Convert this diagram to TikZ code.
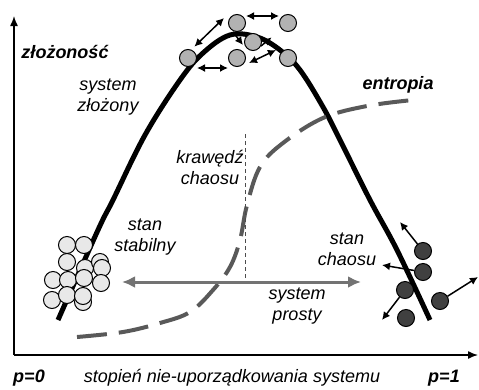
\documentclass[tikz,border=0pt]{standalone}
\usepackage{fontspec}
\setmainfont{Liberation Sans}
\usetikzlibrary{arrows.meta, calc}

\begin{document}
\begin{tikzpicture}[
    x=1pt, y=-1pt,
    lbl/.style={font=\fontsize{18}{21}\selectfont\itshape, align=center,
                inner sep=0pt},
    blbl/.style={lbl, font=\fontsize{18}{21}\selectfont\bfseries\itshape},
    axis/.style={line width=1.4pt, -{Latex[length=10pt,width=8pt]}},
    curve/.style={line width=5pt},
    entr/.style={line width=4pt, draw=black!65, dash pattern=on 30pt off 12pt},
    edgeline/.style={line width=0.9pt, draw=black!70, dash pattern=on 4pt off 3pt},
    ball/.style={circle, draw, line width=1pt, minimum size=17pt, inner sep=0pt},
    ordball/.style={ball, fill=black!9},
    midball/.style={ball, fill=black!30},
    chball/.style={ball, fill=black!75},
    dbl/.style={line width=1.5pt, {Latex[length=8pt,width=8pt]}-{Latex[length=8pt,width=8pt]}},
    sgl/.style={line width=1.5pt, -{Latex[length=8pt,width=8pt]}},
    grayarr/.style={line width=3pt, draw=black!55,
                    {Latex[length=13pt,width=12pt]}-{Latex[length=13pt,width=12pt]}},
]
\useasboundingbox (0,0) rectangle (479,389);
% axes
\coordinate (o) at (14,355);
\coordinate (ytip) at (14,16);
\coordinate (xtip) at (478,355);
\draw[axis] (o) -- (ytip);
\draw[axis] (o) -- (xtip);
% complexity curve and entropy
\draw[curve] plot[smooth, tension=0.6] coordinates {(58,320) (98,230) (113,200)
   (145,135) (180,80) (203,53) (230,35) (257,37) (280,50) (300,70) (323,107)
   (340,140) (370,200) (397,250) (430,320)};
\draw[entr] plot[smooth, tension=0.6] coordinates {(77,337) (123,332) (160,323)
   (190,312) (213,290) (230,267) (240,240) (247,205) (260,167) (283,143)
   (323,118) (367,106) (413,100)};
% edge of chaos
\coordinate (edgetop) at (245,134);
\coordinate (edgebot) at (245,283);
\draw[edgeline] (edgetop) -- (edgebot);
% simple system
\coordinate (sl) at (122,282);
\coordinate (sr) at (361,282);
\draw[grayarr] (sl) -- (sr);
% stable state
\foreach \p [count=\i] in {(67,245),(84,245),(67,262),(85,268),(100,262),
    (102,268),(53,280),(68,280),(84,278),(101,283),(52,300),(67,295),(83,302),(83,296)}
  \node[ordball] (s\i) at \p {};
% complex system
\node[midball] (c1) at (188,58) {};
\node[midball] (c2) at (237,23) {};
\node[midball] (c3) at (288,23) {};
\node[midball] (c5) at (237,58) {};
\node[midball] (c6) at (288,58) {};
\coordinate (c4in) at (243,45);
\coordinate (c4out) at (261,46);
\draw[sgl] ([xshift=-4]c2.south) -- (c4in);
\draw[sgl] (c4out) -- ([xshift=-10,yshift=-8]c3.south west);
\node[midball] (c4) at (253,42) {};
\draw[dbl] ([yshift=5]c1.north east) -- ([xshift=-4,yshift=5]c2.west);
\draw[dbl] ([yshift=7]c2.east) -- ([yshift=7]c3.west);
\draw[dbl] ([yshift=-10]c1.east) -- ([yshift=-10]c5.west);
\draw[dbl] ([xshift=3,yshift=-5]c5.east) -- ([xshift=-3,yshift=8]c6.west);
% chaos
\node[chball] (d1) at (423,251) {};
\node[chball] (d2) at (423,272) {};
\node[chball] (d3) at (405,290) {};
\node[chball] (d4) at (440,301) {};
\node[chball] (d5) at (406,318) {};
\draw[sgl] (d1) -- ++(-23,-29);
\draw[sgl] (d2) -- ++(-41,-7);
\draw[sgl] (d3) -- ++(-23,30);
\draw[sgl] (d4) -- ++(38,-24);
% labels
\node[blbl] (ylab) at (65,52) {złożoność};
\node[lbl] (complex) at (108,97) {system\\złożony};
\node[lbl] (edge) at (210,167) {krawędź\\chaosu};
\node[blbl] (entropy) at (398,85) {entropia};
\node[lbl] (stable) at (145,237) {stan\\stabilny};
\node[lbl] (chaos) at (347,249) {stan\\chaosu};
\node[lbl] (simple) at (297,306) {system\\prosty};
\node[blbl] (p0) at (29,378) {p=0};
\node[lbl] (xlab) at (232,378) {stopień nie-uporządkowania systemu};
\node[blbl] (p1) at (444,378) {p=1};
\end{tikzpicture}
\end{document}
